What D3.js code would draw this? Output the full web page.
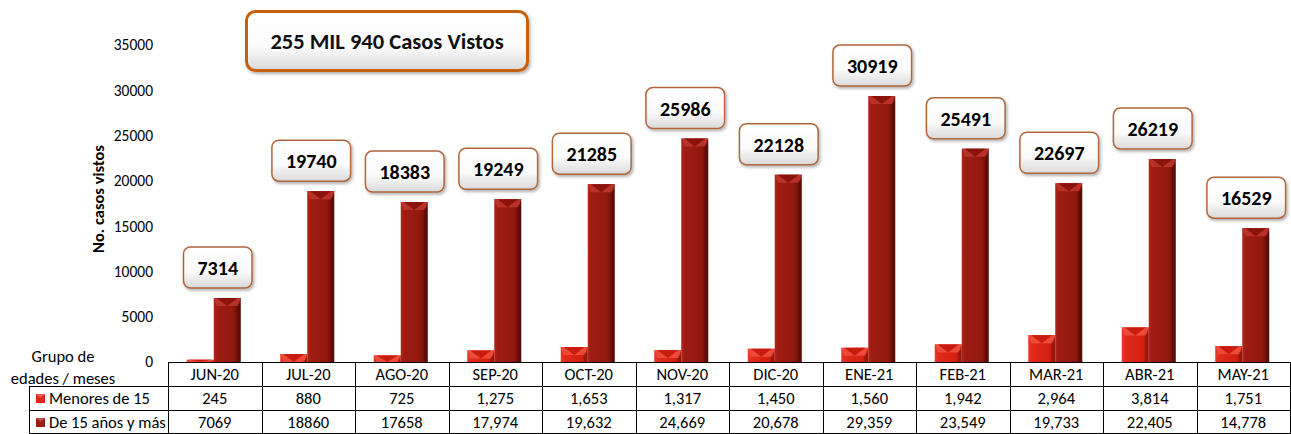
<!DOCTYPE html>
<html>
<head>
<meta charset="utf-8">
<script src="https://cdn.jsdelivr.net/npm/d3@7"></script>
<style>
  body { margin: 0; background: #fff; }
  svg { display: block; font-family: Carlito, Lato, "Open Sans", sans-serif; }
</style>
</head>
<body>
<div class="container"></div>
<script>
var months = ['JUN-20','JUL-20','AGO-20','SEP-20','OCT-20','NOV-20','DIC-20','ENE-21','FEB-21','MAR-21','ABR-21','MAY-21'],
	menores = [245, 880, 725, 1275, 1653, 1317, 1450, 1560, 1942, 2964, 3814, 1751],
	mayores = [7069, 18860, 17658, 17974, 19632, 24669, 20678, 29359, 23549, 19733, 22405, 14778],
	seriesNames = ['Menores de 15', 'De 15 años y más'],
	yTicks = [0, 5000, 10000, 15000, 20000, 25000, 30000, 35000],
	titleText = '255 MIL 940 Casos Vistos',
	plainCols = 3; // the first columns of the table are shown without thousands separator

var WIDTH = 1291,
	HEIGHT = 434,
	LEFT = 168,
	RIGHT = 1290,
	BASE = 362,
	TOP = 45,
	ROW = 24,
	BAR = 27;

function translate(x, y) {
	return 'translate(' + x + ',' + y + ')';
}

var svg = d3.select('.container').append('svg')
	.attr('width', WIDTH)
	.attr('height', HEIGHT);

var defs = svg.append('defs');

function hGrad(id, stops) {
	var g = defs.append('linearGradient').attr('id', id)
		.attr('x1', 0).attr('x2', 1).attr('y1', 0).attr('y2', 0);
	stops.forEach(function(s) {
		g.append('stop').attr('offset', s[0]).attr('stop-color', s[1]);
	});
}
hGrad('gRed', [[0, '#e83a2a'], [0.15, '#e02a1c'], [0.8, '#d2200f'], [1, '#a5160c']]);
hGrad('gDark', [[0, '#b4261a'], [0.12, '#9e1c12'], [0.7, '#921910'], [1, '#650c06']]);

var boxGrad = defs.append('linearGradient').attr('id', 'gBox')
	.attr('x1', 0).attr('x2', 0).attr('y1', 0).attr('y2', 1);
boxGrad.append('stop').attr('offset', 0).attr('stop-color', '#ffffff');
boxGrad.append('stop').attr('offset', 0.6).attr('stop-color', '#fbfbfb');
boxGrad.append('stop').attr('offset', 1).attr('stop-color', '#d9d9d9');

var shadow = defs.append('filter').attr('id', 'shadow')
	.attr('x', '-10%').attr('y', '-10%').attr('width', '130%').attr('height', '140%');
shadow.append('feDropShadow').attr('dx', 1.5).attr('dy', 2).attr('stdDeviation', 1.5)
	.attr('flood-color', '#000').attr('flood-opacity', 0.3);

var xScale = d3.scaleBand()
	.domain(months)
	.range([LEFT, RIGHT]);

var yScale = d3.scaleLinear()
	.domain([0, 35000])
	.range([BASE, TOP]);

// y axis (labels only)
var yAxis = d3.axisLeft(yScale)
	.tickValues(yTicks)
	.tickFormat(d3.format('d'))
	.tickSize(0)
	.tickPadding(0);

var yAxisGroup = svg.append('g')
	.attr('transform', translate(153, 0))
	.call(yAxis);
yAxisGroup.select('.domain').remove();
yAxisGroup.selectAll('text')
	.attr('font-family', 'Carlito, Lato, sans-serif')
	.attr('font-size', 15.5)
	.attr('fill', '#000');

svg.append('text')
	.attr('transform', translate(104, 199) + ' rotate(-90)')
	.attr('text-anchor', 'middle')
	.attr('font-size', 16.5)
	.attr('font-weight', 'bold')
	.text('No. casos vistos');

// 3D-ish bars
function drawBars(values, cls, dx, fill, topFill, notch) {
	var g = svg.append('g').attr('class', cls);
	var bars = g.selectAll('g').data(values).enter().append('g')
		.attr('transform', function(d, i) {
			return translate(xScale(months[i]) + xScale.bandwidth() / 2 + dx, 0);
		});
	bars.append('rect')
		.attr('x', 0)
		.attr('y', function(d) { return yScale(d); })
		.attr('width', BAR)
		.attr('height', function(d) { return BASE - yScale(d); })
		.attr('fill', fill);
	bars.append('path')
		.attr('d', function(d) {
			var y = yScale(d), h = Math.min(8, BASE - y);
			return 'M0,' + y + 'L' + BAR + ',' + y + 'L' + (BAR - 3) + ',' + (y + h) +
				'L' + (BAR / 2) + ',' + (y + h) + 'L3,' + (y + h) + 'Z';
		})
		.attr('fill', topFill);
	bars.append('path')
		.attr('d', function(d) {
			var y = yScale(d), h = Math.min(8, BASE - y);
			return 'M3,' + y + 'L' + (BAR - 3) + ',' + y + 'L' + (BAR / 2) + ',' + (y + h) + 'Z';
		})
		.attr('fill', notch);
	bars.append('rect')
		.attr('x', BAR - 4)
		.attr('y', function(d) { return yScale(d) + 6; })
		.attr('width', 4)
		.attr('height', function(d) { return Math.max(0, BASE - yScale(d) - 6); })
		.attr('fill', '#000')
		.attr('opacity', 0.15);
}
drawBars(menores, 'menores', -28, 'url(#gRed)', '#ee4a38', '#c81c10');
drawBars(mayores, 'mayores', -1, 'url(#gDark)', '#b9322a', '#8a140c');

// total labels
var totals = months.map(function(m, i) { return menores[i] + mayores[i]; });

var labels = svg.append('g').attr('class', 'labels')
	.selectAll('g').data(totals).enter().append('g')
	.attr('transform', function(d, i) {
		var cx = xScale(months[i]) + xScale.bandwidth() / 2 + 3;
		return translate(cx, yScale(mayores[i]) - 10);
	});

labels.append('text')
	.attr('text-anchor', 'middle')
	.attr('y', -13)
	.attr('font-size', 20)
	.attr('font-weight', 'bold')
	.attr('fill', '#000')
	.text(function(d) { return d; });

labels.insert('rect', 'text')
	.each(function() {
		var w = this.parentNode.querySelector('text').getComputedTextLength() + 28;
		d3.select(this)
			.attr('x', -w / 2)
			.attr('y', -41)
			.attr('width', w)
			.attr('height', 41);
	})
	.attr('rx', 7)
	.attr('fill', 'url(#gBox)')
	.attr('stroke', '#b0663a')
	.attr('stroke-width', 1.5)
	.attr('filter', 'url(#shadow)');

// title box
var title = svg.append('g').attr('transform', translate(245, 10));
title.append('rect')
	.attr('x', 1.5).attr('y', 1.5)
	.attr('width', 281).attr('height', 59)
	.attr('rx', 9)
	.attr('fill', 'url(#gBox)')
	.attr('stroke', '#c5600f')
	.attr('stroke-width', 3)
	.attr('filter', 'url(#shadow)');
title.append('text')
	.attr('x', 142).attr('y', 39)
	.attr('text-anchor', 'middle')
	.attr('font-size', 22.5)
	.attr('font-weight', 'bold')
	.attr('fill', '#111')
	.text(titleText);

// data table
var table = svg.append('g').attr('class', 'table')
	.attr('stroke', '#000').attr('stroke-width', 1);

var rowsY = [BASE, BASE + ROW, BASE + 2 * ROW, BASE + 3 * ROW];

table.append('line').attr('x1', LEFT).attr('x2', RIGHT).attr('y1', rowsY[0] + 0.5).attr('y2', rowsY[0] + 0.5);
table.append('line').attr('x1', 29).attr('x2', RIGHT).attr('y1', rowsY[1] + 0.5).attr('y2', rowsY[1] + 0.5);
table.append('line').attr('x1', 29).attr('x2', RIGHT).attr('y1', rowsY[2] + 0.5).attr('y2', rowsY[2] + 0.5);
table.append('line').attr('x1', 29).attr('x2', RIGHT).attr('y1', rowsY[3] - 0.5).attr('y2', rowsY[3] - 0.5);
table.append('line').attr('x1', 29.5).attr('x2', 29.5).attr('y1', rowsY[1]).attr('y2', rowsY[3]);

table.selectAll('.vline').data(months.concat(['end'])).enter().append('line')
	.attr('class', 'vline')
	.attr('x1', function(d, i) { return Math.round(LEFT + i * xScale.bandwidth()) + 0.5; })
	.attr('x2', function(d, i) { return Math.round(LEFT + i * xScale.bandwidth()) + 0.5; })
	.attr('y1', rowsY[0])
	.attr('y2', rowsY[3]);

var cellText = svg.append('g').attr('font-size', 16.5).attr('fill', '#000');

cellText.selectAll('.hdr').data(months).enter().append('text')
	.attr('class', 'hdr')
	.attr('x', function(d) { return xScale(d) + xScale.bandwidth() / 2; })
	.attr('y', rowsY[0] + 18)
	.attr('text-anchor', 'middle')
	.text(function(d) { return d; });

var fmtComma = d3.format(',');
[menores, mayores].forEach(function(vals, r) {
	cellText.selectAll('.row' + r).data(vals).enter().append('text')
		.attr('class', 'row' + r)
		.attr('x', function(d, i) { return xScale(months[i]) + xScale.bandwidth() / 2; })
		.attr('y', rowsY[r + 1] + 18)
		.attr('text-anchor', 'middle')
		.text(function(d, i) { return i < plainCols ? String(d) : fmtComma(d); });
});

var legendColors = ['#e2281a', '#9e1c12'];
seriesNames.forEach(function(name, r) {
	var y = rowsY[r + 1] + 8;
	svg.append('rect')
		.attr('x', 36).attr('y', y)
		.attr('width', 9).attr('height', 9)
		.attr('fill', legendColors[r]);
	svg.append('path')
		.attr('d', 'M36,' + y + 'L45,' + y + 'L40.5,' + (y + 4) + 'Z')
		.attr('fill', '#fff').attr('opacity', 0.25);
	cellText.append('text')
		.attr('x', 49)
		.attr('y', rowsY[r + 1] + 18)
		.text(name);
});

cellText.append('text')
	.attr('x', 63).attr('y', 362)
	.attr('text-anchor', 'middle')
	.text('Grupo de');
cellText.append('text')
	.attr('x', 63).attr('y', 384)
	.attr('text-anchor', 'middle')
	.text('edades / meses');
</script>
</body>
</html>
